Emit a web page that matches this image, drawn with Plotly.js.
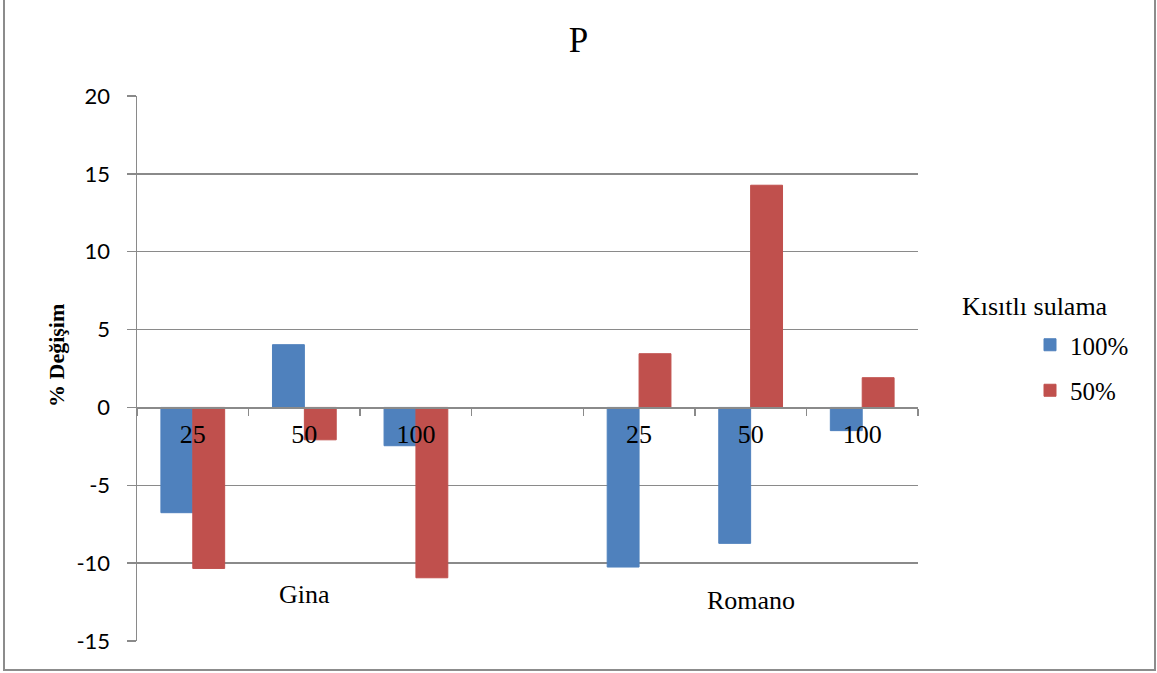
<!DOCTYPE html>
<html>
<head>
<meta charset="utf-8">
<script src="https://cdn.plot.ly/plotly-3.0.1.min.js"></script>
<style>
  html, body { margin: 0; padding: 0; background: #ffffff; }
  #wrap { position: relative; width: 1157px; height: 673px; overflow: hidden; }
  #chart { width: 1157px; height: 673px; }
  #frame {
    position: absolute; left: 3px; top: -5px; width: 1153px; height: 676px;
    box-sizing: border-box; border: 2px solid #8c8c8c; pointer-events: none;
  }
</style>
</head>
<body>
<div id="wrap">
  <div id="chart"></div>
  <div id="frame"></div>
</div>
<script>
// Cultivars and fertiliser doses along the category axis (blank slot separates the cultivars)
const groups = ["Gina", "Gina", "Gina", "", "Romano", "Romano", "Romano"];
const doses  = ["25", "50", "100", "", "25", "50", "100"];

// % change of P under restricted irrigation
const irrigation100 = [-6.76, 4.03, -2.46, null, -10.25, -8.73, -1.49];
const irrigation50  = [-10.34, -2.08, -10.94, null, 3.45, 14.27, 1.91];

// value axis ticks, written with a plain hyphen
const yTickVals = [-15, -10, -5, 0, 5, 10, 15, 20];
const yTickText = ["-15", "-10", "-5", "0", "5", "10", "15", "20"];

const seriesNames = ["100%", "50%"];
const legendTitle = "Kısıtlı sulama";
const yTitle = "% Değişim";
const chartTitle = "P";
const groupNames = ["Gina", "Romano"];
const groupCenters = ["Gina|50", "Romano|50"];

const keys = groups.map((g, i) => g ? g + "|" + doses[i] : "sep");

const blue = "#4F81BD";
const red = "#C0504D";
const gray = "#8a8a8a";
const serif = "'Liberation Serif', 'Times New Roman', serif";
const sans = "Lato, 'Liberation Sans', Arial, sans-serif";

const traces = [
  {
    type: "bar", x: keys, y: irrigation100, name: seriesNames[0], legendgroup: "a",
    marker: { color: blue, line: { color: blue, width: 1 } }, hoverinfo: "y"
  },
  {
    type: "bar", x: keys, y: irrigation50, name: seriesNames[1], legendgroup: "b",
    marker: { color: red, line: { color: red, width: 1 } }, hoverinfo: "y"
  }
];

const plotLeft = 137, plotRight = 918, plotTop = 96, plotBottom = 641;
const W = 1157, H = 673;
const pw = plotRight - plotLeft, ph = plotBottom - plotTop;
const px = v => (v - plotLeft) / pw;
const py = v => (plotBottom - v) / ph;

const layout = {
  width: W, height: H,
  margin: { l: plotLeft, r: W - plotRight, t: plotTop, b: H - plotBottom, pad: 0 },
  paper_bgcolor: "#ffffff", plot_bgcolor: "#ffffff",
  font: { family: serif, color: "#000000" },
  title: {
    text: chartTitle, font: { family: serif, size: 35, color: "#000000" },
    x: 0.5, xref: "container", xanchor: "center",
    y: 1 - 40 / H, yref: "container", yanchor: "middle"
  },
  barmode: "group", bargap: 0.4286, bargroupgap: 0,
  xaxis: {
    type: "category", categoryorder: "array", categoryarray: keys,
    tickmode: "array", tickvals: keys, ticktext: doses, tickson: "boundaries",
    range: [-0.5, keys.length - 0.5],
    anchor: "free", position: 15 / 35,
    showline: true, linecolor: gray, linewidth: 1.5,
    ticks: "outside", ticklen: 7, tickwidth: 1.5, tickcolor: gray,
    showgrid: false, zeroline: false,
    tickfont: { family: serif, size: 26, color: "#000000" },
    ticklabelstandoff: 3,
    fixedrange: true
  },
  yaxis: {
    range: [-15, 20], tickmode: "array", tickvals: yTickVals, ticktext: yTickText,
    showgrid: true, gridcolor: gray, gridwidth: 1.5,
    zeroline: false,
    showline: true, linecolor: gray, linewidth: 1.5,
    ticks: "outside", ticklen: 9, tickwidth: 1.5, tickcolor: gray,
    tickfont: { family: sans, size: 22, color: "#000000" },
    ticklabelstandoff: 12,
    fixedrange: true
  },
  showlegend: true,
  legend: {
    x: px(1030), xanchor: "left", y: py(322), yanchor: "top",
    traceorder: "grouped", tracegroupgap: 10,
    font: { family: serif, size: 25, color: "#000000" },
    bgcolor: "rgba(0,0,0,0)", borderwidth: 0
  },
  annotations: [
    {
      text: "<b>" + yTitle + "</b>", xref: "paper", yref: "paper", x: px(56), y: py(356),
      xanchor: "center", yanchor: "middle", textangle: -90, showarrow: false,
      font: { family: serif, size: 22, color: "#000000" }
    },
    {
      text: legendTitle, xref: "paper", yref: "paper", x: px(1035), y: py(306),
      xanchor: "center", yanchor: "middle", showarrow: false,
      font: { family: serif, size: 26, color: "#000000" }
    },
    ...groupNames.map((g, i) => ({
      text: g, xref: "x", yref: "paper", x: groupCenters[i],
      y: py(i === 0 ? 594 : 600), xanchor: "center", yanchor: "middle", showarrow: false,
      font: { family: serif, size: 26, color: "#000000" }
    }))
  ]
};

Plotly.newPlot("chart", traces, layout, { displayModeBar: false, staticPlot: true });
</script>
</body>
</html>
